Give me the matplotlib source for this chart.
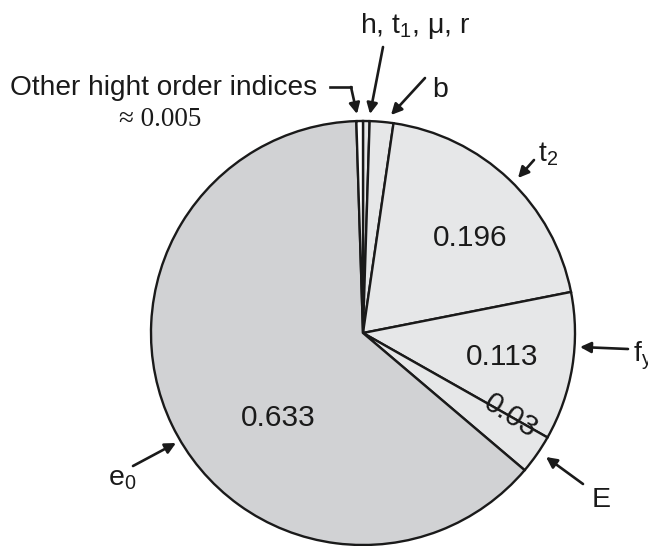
import matplotlib
matplotlib.use("Agg")
import matplotlib.pyplot as plt

plt.rcParams["font.family"] = ["Liberation Sans", "DejaVu Sans"]
plt.rcParams["mathtext.default"] = "regular"

# shares of the total variance, clockwise from 12 o'clock
factors = ["h, t$_1$, μ, r", "b", "t$_2$", "f$_y$", "E", "e$_0$", "other"]
shares = [0.005, 0.018, 0.196, 0.113, 0.03, 0.633, 0.005]
colors = ["#e6e7e8", "#e6e7e8", "#e6e7e8", "#e6e7e8", "#e6e7e8", "#d1d2d4", "white"]
printed = ["t$_2$", "f$_y$", "E", "e$_0$"]

W, H = 648, 546


def px(x, y):
    # image-style coordinates (y down) -> axes coordinates (y up)
    return (x, H - y)


fig = plt.figure(figsize=(W / 100, H / 100), dpi=100)
ax = fig.add_axes([0, 0, 1, 1])

wedges, _ = ax.pie(shares, colors=colors, startangle=90, counterclock=False,
                   center=px(363, 333), radius=212, frame=True,
                   wedgeprops=dict(edgecolor="#1a1a1a", linewidth=1.7))
ax.set_xlim(0, W)
ax.set_ylim(0, H)
ax.set_aspect("equal")
ax.axis("off")

# numbers printed inside the bigger slices
value_pos = {"t$_2$": (470, 238, 0), "f$_y$": (502, 357, 0),
             "E": (511, 416, -33), "e$_0$": (278, 418, 0)}
for name in printed:
    v = shares[factors.index(name)]
    x, y, rot = value_pos[name]
    ax.text(*px(x, y), f"{v:g}", fontsize=21.5, ha="center", va="center",
            rotation=rot, rotation_mode="anchor", color="#1a1a1a")

arrow = dict(arrowstyle="-|>", color="#1a1a1a", lw=1.9, mutation_scale=16,
             shrinkA=0, shrinkB=0)

# slice labels with their arrows: (text, text pos, tail, head)
labels = [
    ("h, t$_1$, μ, r", (360, 33), (383, 47), (370, 114)),
    ("b", (432, 97), (425, 78), (391, 115)),
    ("t$_2$", (538, 161), (534, 160), (518, 178)),
    ("f$_y$", (633, 362), (628, 349), (580, 347)),
    ("E", (592, 507), (583, 484), (546, 457)),
    ("e$_0$", (108, 485), (133, 466), (176, 443)),
]
for text, tpos, tail, head in labels:
    ax.text(*px(*tpos), text, fontsize=20.5, ha="left", va="baseline",
            color="#1a1a1a")
    ax.annotate("", xy=px(*head), xytext=px(*tail), arrowprops=arrow)

# the leftover higher order terms
ax.text(*px(10, 95), "Other hight order indices", fontsize=20.2,
        ha="left", va="baseline", color="#1a1a1a")
ax.text(*px(160, 126), "≈ 0.005", fontsize=19.5, ha="center", va="baseline",
        family=["Liberation Serif", "DejaVu Serif"], color="#1a1a1a")
ax.plot(*zip(px(330, 87), px(351, 87)), color="#1a1a1a", lw=1.9)
ax.annotate("", xy=px(357, 114), xytext=px(351, 87), arrowprops=arrow)

fig.savefig("out.png", dpi=100)
